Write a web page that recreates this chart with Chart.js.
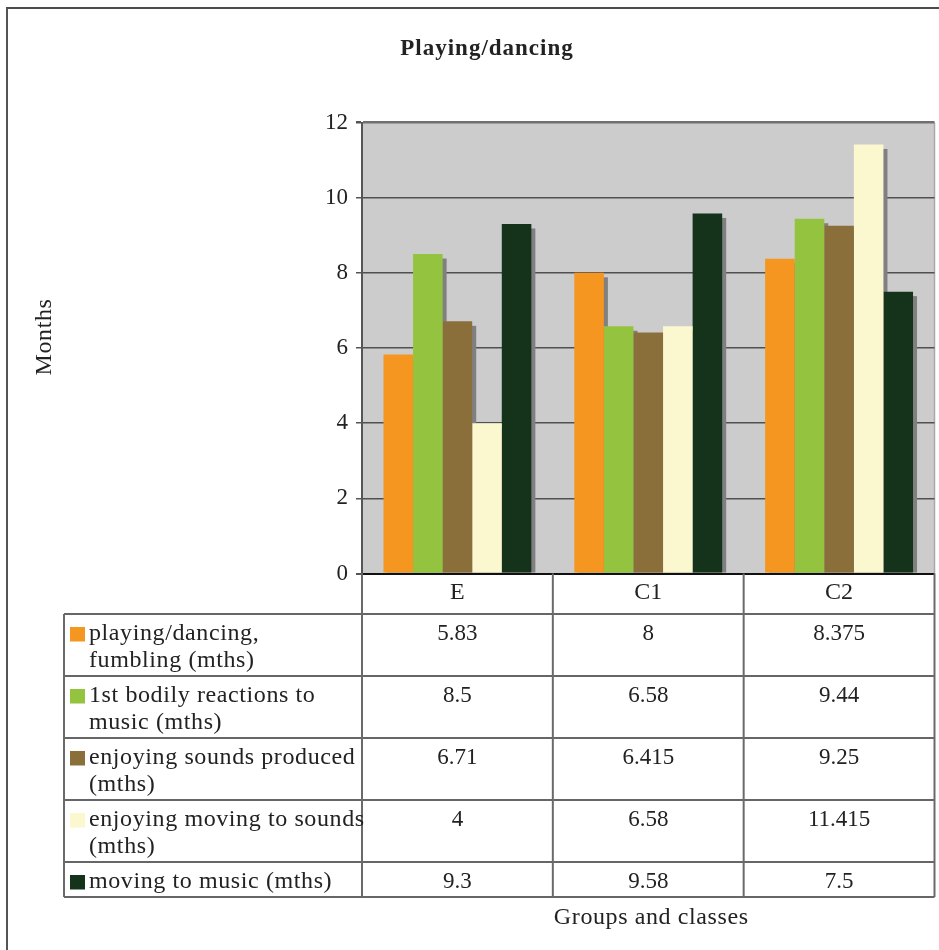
<!DOCTYPE html>
<html>
<head>
<meta charset="utf-8">
<title>Playing/dancing</title>
<script src="https://cdn.jsdelivr.net/npm/chart.js@4/dist/chart.umd.min.js"></script>
<style>
  html, body { margin: 0; padding: 0; background: #ffffff; }
  canvas { display: block; }
</style>
</head>
<body>
<canvas id="chart" width="939" height="950"></canvas>
<script>
// Groups on the x axis
const categories = ['E', 'C1', 'C2'];

// Series values (months), one array per behaviour
const playingFumbling        = [5.83, 8, 8.375];
const firstBodilyReactions   = [8.5, 6.58, 9.44];
const enjoyingSoundsProduced = [6.71, 6.415, 9.25];
const enjoyingMovingToSounds = [4, 6.58, 11.415];
const movingToMusic          = [9.3, 9.58, 7.5];

// Series names as they are broken over lines in the data table
const seriesLabelLines = [
  ['playing/dancing,', 'fumbling (mths)'],
  ['1st bodily reactions to', 'music (mths)'],
  ['enjoying sounds produced', '(mths)'],
  ['enjoying moving to sounds', '(mths)'],
  ['moving to music (mths)']
];
const seriesValues = [playingFumbling, firstBodilyReactions, enjoyingSoundsProduced, enjoyingMovingToSounds, movingToMusic];
const seriesColors = ['#F49620', '#94C43F', '#8B6F3B', '#FBF8D0', '#15331A'];

// Value axis
const yMin = 0, yMax = 12, yStep = 2;

const chartTitle = 'Playing/dancing';
const yTitle = 'Months';
const xTitle = 'Groups and classes';

const SERIF = '"Liberation Serif", "Times New Roman", serif';
const TEXT_COLOR = '#222222';

function setSpacing(ctx, px) {
  if ('letterSpacing' in ctx) ctx.letterSpacing = px + 'px';
}

const chartDecor = {
  id: 'chartDecor',
  beforeDraw(chart) {
    const { ctx, chartArea: a } = chart;
    ctx.save();
    ctx.fillStyle = '#ffffff';
    ctx.fillRect(0, 0, chart.width, chart.height);
    // grey plot area
    ctx.fillStyle = '#CCCCCC';
    ctx.fillRect(a.left, a.top, a.right - a.left, a.bottom - a.top);
    // light right edge of plot area
    ctx.strokeStyle = '#A8A8A8';
    ctx.lineWidth = 1.5;
    ctx.beginPath();
    ctx.moveTo(a.right, a.top);
    ctx.lineTo(a.right, a.bottom);
    ctx.stroke();
    ctx.restore();
  },
  beforeDatasetsDraw(chart) {
    // drop shadows behind each bar, offset down and right
    const { ctx, chartArea: a } = chart;
    ctx.save();
    ctx.beginPath();
    ctx.rect(a.left, a.top, a.right - a.left, a.bottom - a.top);
    ctx.clip();
    ctx.fillStyle = '#808080';
    chart.data.datasets.forEach((ds, i) => {
      chart.getDatasetMeta(i).data.forEach(bar => {
        const w = bar.width;
        ctx.fillRect(bar.x - w / 2 + 4, bar.y + 4.5, w, bar.base - bar.y - 4.5);
      });
    });
    ctx.restore();
  },
  afterDraw(chart) {
    const { ctx, chartArea: a } = chart;
    const xs = chart.scales.x;
    const colW = (xs.right - xs.left) / categories.length;

    ctx.save();

    // outer frame
    ctx.strokeStyle = '#111111';
    ctx.lineWidth = 1.5;
    ctx.beginPath();
    ctx.moveTo(6, 8);
    ctx.lineTo(chart.width, 8);
    ctx.stroke();
    ctx.strokeStyle = '#555555';
    ctx.lineWidth = 2;
    ctx.beginPath();
    ctx.moveTo(7, 8);
    ctx.lineTo(7, chart.height);
    ctx.stroke();

    // data table
    const tableLeft = 64;
    const headerBottom = xs.bottom;
    const lineH = 27;
    const rowTops = [];
    let y = headerBottom;
    seriesLabelLines.forEach(lines => {
      rowTops.push(y);
      y += lines.length * lineH + 8;
    });
    const tableBottom = y;

    // horizontal rules
    ctx.strokeStyle = '#333333';
    ctx.lineWidth = 1.5;
    rowTops.concat([tableBottom]).forEach(ry => {
      ctx.beginPath();
      ctx.moveTo(tableLeft, ry);
      ctx.lineTo(xs.right, ry);
      ctx.stroke();
    });
    // vertical rules
    ctx.strokeStyle = '#6A6A6A';
    ctx.lineWidth = 2;
    for (let k = 0; k <= categories.length; k++) {
      const vx = xs.left + k * colW;
      ctx.beginPath();
      ctx.moveTo(vx, a.bottom);
      ctx.lineTo(vx, tableBottom);
      ctx.stroke();
    }
    ctx.beginPath();
    ctx.moveTo(tableLeft, headerBottom);
    ctx.lineTo(tableLeft, tableBottom);
    ctx.stroke();

    // legend keys, series names and values
    ctx.fillStyle = TEXT_COLOR;
    ctx.textBaseline = 'alphabetic';
    seriesLabelLines.forEach((lines, i) => {
      const top = rowTops[i];
      ctx.fillStyle = seriesColors[i];
      ctx.fillRect(70, top + 13, 15, 14.5);
      ctx.fillStyle = TEXT_COLOR;
      ctx.font = '24px ' + SERIF;
      setSpacing(ctx, 0.6);
      ctx.textAlign = 'left';
      lines.forEach((t, l) => ctx.fillText(t, 89, top + 26 + l * lineH));
      ctx.font = '23px ' + SERIF;
      setSpacing(ctx, 0);
      ctx.textAlign = 'center';
      seriesValues[i].forEach((v, j) => {
        ctx.fillText(String(v), xs.getPixelForValue(j), top + 26);
      });
    });

    // chart title
    ctx.font = 'bold 23px ' + SERIF;
    setSpacing(ctx, 1);
    ctx.textAlign = 'center';
    ctx.fillText(chartTitle, 487, 55);

    // axis titles
    ctx.font = '24px ' + SERIF;
    setSpacing(ctx, 0.6);
    ctx.fillText(xTitle, (xs.left + xs.right) / 2 + 3, 924);
    ctx.save();
    ctx.translate(51, 337);
    ctx.rotate(-Math.PI / 2);
    ctx.fillText(yTitle, 0, 0);
    ctx.restore();

    ctx.restore();
  }
};

new Chart(document.getElementById('chart'), {
  type: 'bar',
  data: {
    labels: categories,
    datasets: seriesLabelLines.map((lines, i) => ({
      label: lines.join(' '),
      data: seriesValues[i],
      backgroundColor: seriesColors[i],
      borderWidth: 0
    }))
  },
  options: {
    responsive: false,
    animation: false,
    layout: { padding: { top: 122.5, left: 0, right: 4.5, bottom: 336 } },
    datasets: { bar: { categoryPercentage: 0.775, barPercentage: 1 } },
    plugins: {
      legend: { display: false },
      title: { display: false },
      tooltip: { enabled: false }
    },
    scales: {
      x: {
        grid: { display: false, drawTicks: false },
        border: { display: false },
        ticks: { font: { family: SERIF, size: 24 }, color: TEXT_COLOR, padding: 5 },
        afterFit(scale) { scale.height = 40.5; }
      },
      y: {
        min: yMin,
        max: yMax,
        ticks: { stepSize: yStep, font: { family: SERIF, size: 23 }, color: TEXT_COLOR, padding: 8 },
        grid: {
          color: c => c.tick && c.tick.value === yMax ? '#707070' : (c.tick && c.tick.value === yMin ? '#111111' : '#505050'),
          lineWidth: c => c.tick && c.tick.value === yMax ? 2.5 : (c.tick && c.tick.value === yMin ? 2 : 1.5),
          tickColor: '#555555',
          tickLength: 6
        },
        border: { display: true, color: '#555555', width: 2 },
        afterFit(scale) { scale.width = 362; }
      }
    }
  },
  plugins: [chartDecor]
});
</script>
</body>
</html>
